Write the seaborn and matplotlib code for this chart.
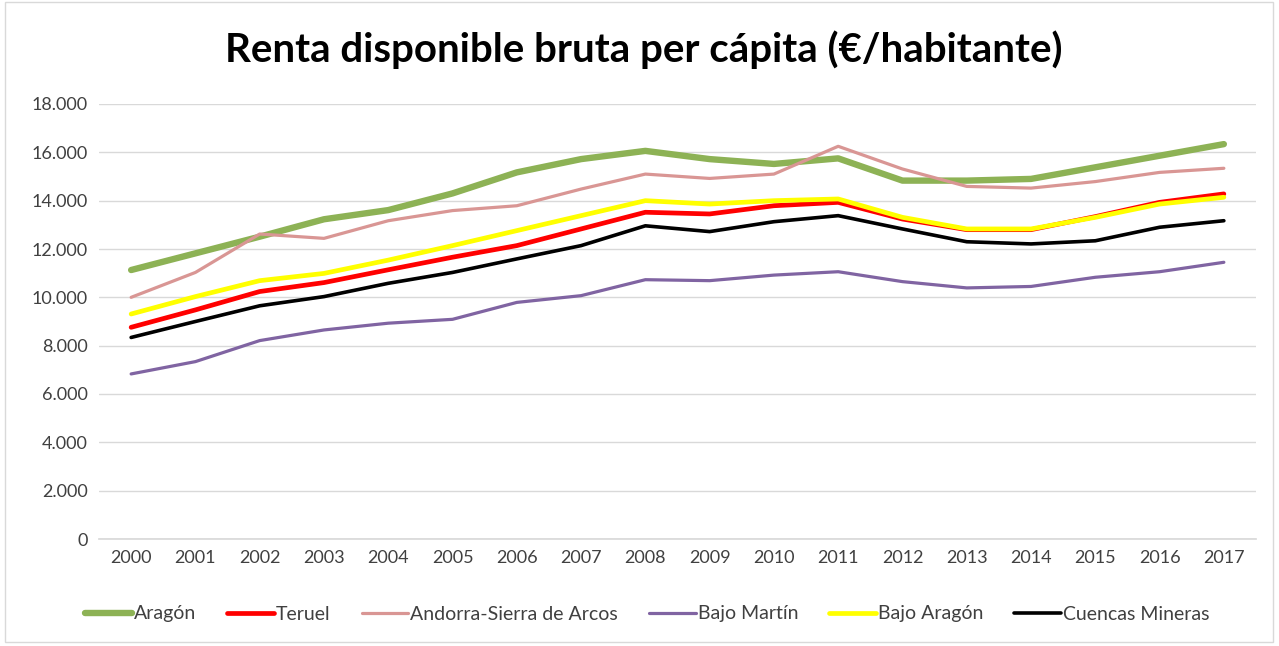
import matplotlib
matplotlib.use("Agg")
import matplotlib.pyplot as plt
import seaborn as sns
import pandas as pd
from matplotlib.patches import Rectangle

years = [str(y) for y in range(2000, 2018)]
aragon = [11130, 11820, 12510, 13230, 13610, 14300, 15170, 15720, 16060, 15720, 15520, 15750,
          14830, 14830, 14900, 15380, 15860, 16340]
teruel = [8760, 9480, 10240, 10610, 11140, 11660, 12140, 12830, 13520, 13450, 13790, 13930,
          13240, 12800, 12800, 13340, 13930, 14280]
andorra = [10000, 11030, 12620, 12440, 13170, 13590, 13790, 14480, 15100, 14920, 15100, 16250,
           15310, 14590, 14520, 14790, 15170, 15340]
bajo_martin = [6830, 7340, 8210, 8650, 8930, 9090, 9790, 10070, 10730, 10690, 10920, 11060,
               10650, 10390, 10450, 10830, 11060, 11450]
bajo_aragon = [9310, 10030, 10690, 10990, 11540, 12140, 12760, 13380, 14000, 13860, 14000, 14070,
               13310, 12830, 12830, 13310, 13860, 14140]
cuencas = [8340, 9000, 9650, 10030, 10580, 11030, 11590, 12140, 12960, 12720, 13130, 13380,
           12830, 12300, 12210, 12340, 12900, 13170]

series_names = ["Aragón", "Teruel", "Andorra-Sierra de Arcos", "Bajo Martín", "Bajo Aragón", "Cuencas Mineras"]
series_values = [aragon, teruel, andorra, bajo_martin, bajo_aragon, cuencas]
colors = ["#8DB255", "#FF0000", "#D99694", "#8064A2", "#FFFF00", "#000000"]
widths = [4.6, 3.4, 2.3, 2.3, 3.4, 2.6]

rows = []
for name, vals in zip(series_names, series_values):
    for yr, v in zip(years, vals):
        rows.append({"year": yr, "serie": name, "valor": v})
df = pd.DataFrame(rows)

sns.set_theme(style="white")
plt.rcParams["font.family"] = ["Lato", "DejaVu Sans"]

fig = plt.figure(figsize=(12.79, 6.46), dpi=100)
ax = fig.add_axes([99 / 1279, 1 - 539 / 646, (1256 - 99) / 1279, (539 - 104) / 646])

xpos = {y: i for i, y in enumerate(years)}
df["x"] = df["year"].map(xpos)

for name, col, lw in zip(series_names, colors, widths):
    sub = df[df["serie"] == name]
    sns.lineplot(data=sub, x="x", y="valor", color=col, linewidth=lw, ax=ax,
                 label=name, solid_capstyle="round", solid_joinstyle="round")

ax.set_xlim(-0.5, len(years) - 0.5)
ax.set_ylim(0, 18000)
ax.set_xticks(range(len(years)))
ax.set_xticklabels(years, fontsize=13, color="#404040")
yt = list(range(0, 18001, 2000))
ax.set_yticks(yt)
ax.set_yticklabels([f"{v:,}".replace(",", ".") for v in yt], fontsize=13, color="#404040")
ax.tick_params(axis="both", length=0, pad=8)
ax.grid(axis="y", color="#D9D9D9", linewidth=1)
ax.set_axisbelow(True)
for s in ["top", "right", "left"]:
    ax.spines[s].set_visible(False)
ax.spines["bottom"].set_color("#D9D9D9")
ax.set_xlabel("")
ax.set_ylabel("")

leg = ax.legend(loc="center", bbox_to_anchor=(0.5 * (95 + 1200) / 1279, 1 - 614 / 646),
                bbox_transform=fig.transFigure, ncol=6, frameon=False, fontsize=14,
                handlelength=2.4, handletextpad=0.1, columnspacing=1.6)
for t in leg.get_texts():
    t.set_color("#404040")

fig.text(0.5 * (228 + 1060) / 1279, 1 - 50 / 646, "Renta disponible bruta per cápita (€/habitante)",
         ha="center", va="center", fontsize=29, fontweight="bold", color="#000000")

fig.patches.append(Rectangle((5 / 1279, 4 / 646), 1268 / 1279, 640 / 646, transform=fig.transFigure,
                             fill=False, edgecolor="#D9D9D9", linewidth=1))

fig.savefig("out.png", dpi=100)
